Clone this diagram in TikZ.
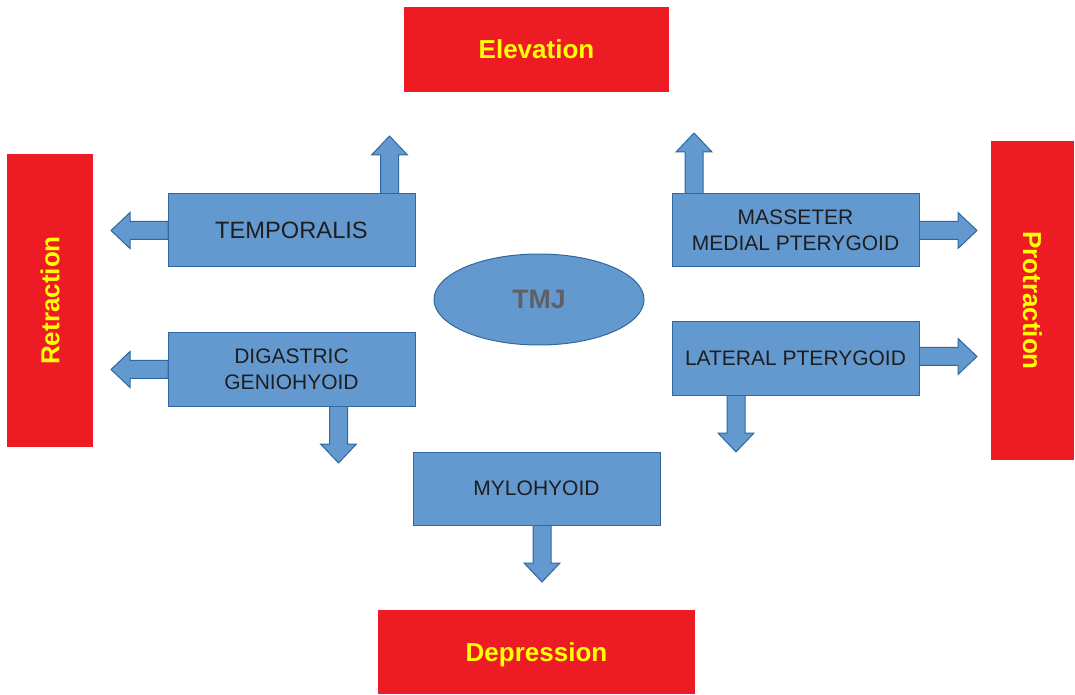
\documentclass[tikz,border=0pt]{standalone}
\usepackage{fontspec}
\setmainfont{Liberation Sans}
\usetikzlibrary{shapes.geometric}
\definecolor{boxblue}{RGB}{100,153,208}
\definecolor{edgeblue}{RGB}{47,104,158}
\definecolor{boxred}{RGB}{237,28,36}
\definecolor{txtyellow}{RGB}{255,255,0}
\definecolor{txtdark}{RGB}{30,30,30}
\tikzset{
  muscle/.style={draw=edgeblue, fill=boxblue, line width=0.75pt, inner sep=0pt,
    minimum width=185.25pt, minimum height=54.75pt, align=center,
    text=txtdark, font=\fontsize{15.75}{19.5}\selectfont},
  movement/.style={fill=boxred, inner sep=0pt, text=txtyellow,
    font=\fontsize{19.5}{23}\selectfont\bfseries},
  movetext/.style={inner sep=0pt, text=txtyellow, text height=14pt, text depth=0pt,
    font=\fontsize{19.5}{23}\selectfont\bfseries},
  barrowstyle/.style={draw=edgeblue, fill=boxblue, line width=0.75pt, line join=miter},
  pics/blockarrow/.style={code={
    \draw[barrowstyle] (0,-9) -- (#1-19,-9) -- (#1-19,-18) -- (#1,0)
      -- (#1-19,18) -- (#1-19,9) -- (0,9) -- cycle;}}
}
\begin{document}
\begin{tikzpicture}[x=0.75pt,y=-0.75pt]
\useasboundingbox (0,0) rectangle (1075,695);
% movement boxes
\node[movement, minimum width=198.75pt, minimum height=63.75pt] (elev) at (536.5,49.5) {};
\node[movetext] (elevtxt) at (elev.center) {Elevation};
\node[movement, minimum width=237.75pt, minimum height=63pt] (depr) at (536.5,652) {};
\node[movetext] (deprtxt) at (depr.center) {Depression};
\node[movement, minimum width=64.5pt, minimum height=219.75pt] (retr) at (50,300.5) {};
\node[movetext, rotate=90] (retrtxt) at (retr.center) {Retraction};
\node[movement, minimum width=62.25pt, minimum height=239.25pt] (prot) at (1032.5,300.5) {};
\node[movetext, rotate=-90] (prottxt) at (prot.center) {Protraction};
% TMJ
\node[draw=edgeblue, fill=boxblue, line width=0.75pt, ellipse, inner sep=0pt,
  minimum width=157.5pt, minimum height=68.25pt,
  text={rgb,255:red,95;green,95;blue,100}, font=\fontsize{20}{24}\selectfont\bfseries]
  (tmj) at (539,299.5) {TMJ};
% arrows (drawn before boxes)
\path (291.5,230.5) coordinate (ctemp) (795.5,230.5) coordinate (cmass)
  (291.5,369.5) coordinate (cdig) (795.5,358.5) coordinate (clat) (536.5,488.5) coordinate (cmylo);
\pic[rotate=90] at ([xshift=73.5pt,yshift=27.375pt]ctemp) {blockarrow=58};
\pic[rotate=180] at ([xshift=-92.625pt]ctemp) {blockarrow=57};
\pic[rotate=90] at ([xshift=-76.125pt,yshift=27.375pt]cmass) {blockarrow=61};
\pic at ([xshift=92.625pt]cmass) {blockarrow=58};
\pic[rotate=180] at ([xshift=-92.625pt]cdig) {blockarrow=57};
\pic[rotate=-90] at ([xshift=35.25pt,yshift=-27.375pt]cdig) {blockarrow=57};
\pic at ([xshift=92.625pt,yshift=1.5pt]clat) {blockarrow=58};
\pic[rotate=-90] at ([xshift=-44.625pt,yshift=-27.375pt]clat) {blockarrow=57};
\pic[rotate=-90] at ([xshift=4.125pt,yshift=-27.375pt]cmylo) {blockarrow=57};
% muscle boxes
\node[muscle, font=\fontsize{17.75}{21}\selectfont] (temp) at (ctemp) {TEMPORALIS};
\node[muscle] (mass) at (cmass) {MASSETER\\MEDIAL PTERYGOID};
\node[muscle] (dig) at (cdig) {DIGASTRIC\\GENIOHYOID};
\node[muscle] (lat) at (clat) {LATERAL PTERYGOID};
\node[muscle] (mylo) at (cmylo) {MYLOHYOID};
\end{tikzpicture}
\end{document}
